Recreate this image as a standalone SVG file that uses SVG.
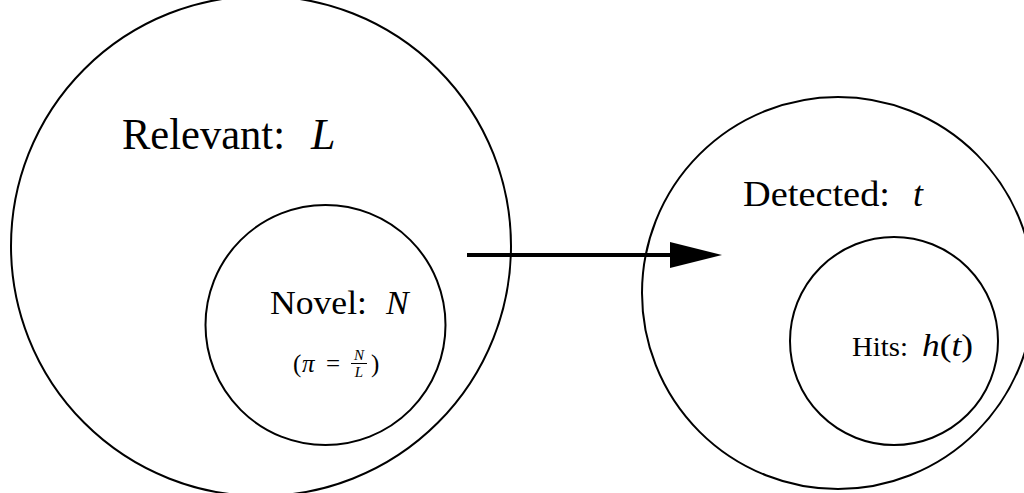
<svg xmlns="http://www.w3.org/2000/svg" width="1024" height="493" viewBox="0 0 1024 493">
<style>
.c{fill:none;stroke:#000;stroke-width:2}
.t{font-family:"Liberation Serif","DejaVu Serif",serif;fill:#000}
.i{font-style:italic}
</style>
<defs>
<marker id="ah" markerUnits="userSpaceOnUse" markerWidth="54" markerHeight="26" refX="30" refY="13" orient="auto">
<path d="M0,0 L52,13 L0,26 Z" fill="#000"/>
</marker>
</defs>
<rect width="1024" height="493" fill="#fff"/>
<g id="relevant">
<circle class="c" cx="261" cy="246" r="250"/>
<text class="t" x="122" y="149" font-size="44" textLength="163" lengthAdjust="spacingAndGlyphs">Relevant:</text>
<text class="t i" x="311" y="149" font-size="44">L</text>
</g>
<g id="novel">
<circle class="c" cx="325.5" cy="325" r="120"/>
<text class="t" x="270" y="314" font-size="34" textLength="97" lengthAdjust="spacingAndGlyphs">Novel:</text>
<text class="t i" x="386" y="314" font-size="34">N</text>
<text class="t" x="293" y="372" font-size="25">(</text>
<text class="t i" x="302" y="372" font-size="25">π</text>
<text class="t" x="326" y="372" font-size="25">=</text>
<text class="t i" x="359" y="360" font-size="15" text-anchor="middle">N</text>
<line x1="351" y1="363.5" x2="367" y2="363.5" stroke="#000" stroke-width="1"/>
<text class="t i" x="359" y="377" font-size="15" text-anchor="middle">L</text>
<text class="t" x="371" y="372" font-size="25">)</text>
</g>
<g id="detected">
<circle class="c" cx="838" cy="293" r="196"/>
<text class="t" x="743" y="206" font-size="36" textLength="147" lengthAdjust="spacingAndGlyphs">Detected:</text>
<text class="t i" x="913" y="206" font-size="36">t</text>
</g>
<g id="hits">
<circle class="c" cx="894" cy="341" r="104"/>
<text class="t" x="852" y="356" font-size="28" textLength="56" lengthAdjust="spacingAndGlyphs">Hits:</text>
<text class="t" x="922" y="356" font-size="31" textLength="51" lengthAdjust="spacingAndGlyphs"><tspan class="i">h</tspan>(<tspan class="i">t</tspan>)</text>
</g>
<g id="connectors">
<line x1="467" y1="255" x2="700" y2="255" stroke="#000" stroke-width="4" marker-end="url(#ah)"/>
</g>
</svg>
